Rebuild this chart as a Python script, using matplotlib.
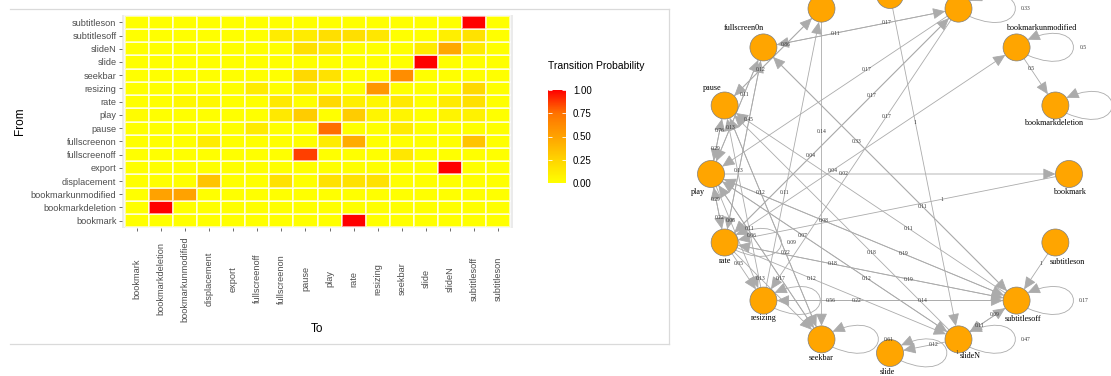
import numpy as np
import matplotlib
matplotlib.use("Agg")
import matplotlib.pyplot as plt
from matplotlib.colors import LinearSegmentedColormap
from matplotlib.patches import Circle, FancyArrowPatch
from matplotlib.path import Path

# states, in the order used on both axes of the heatmap and around the circle
states = ['bookmark', 'bookmarkdeletion', 'bookmarkunmodified', 'displacement', 'export',
          'fullscreenoff', 'fullscreenon', 'pause', 'play', 'rate', 'resizing',
          'seekbar', 'slide', 'slideN', 'subtitlesoff', 'subtitleson']

# names written next to the network nodes
node_names = ['bookmark', 'bookmarkdeletion', 'bookmarkunmodified', 'displacement', 'export',
              'fullscreenoff', 'fullscreen0n', 'pause', 'play', 'rate', 'resizing',
              'seekbar', 'slide', 'slideN', 'subtitlesoff', 'subtitleson']

# transition probabilities: one row per "from" state, columns follow `states`
probs = [
    [0, 0, 0, 0, 0, 0, 0, 0, 0, 1, 0, 0, 0, 0, 0, 0],                                # bookmark
    [0, 1, 0, 0, 0, 0, 0, 0, 0, 0, 0, 0, 0, 0, 0, 0],                                # bookmarkdeletion
    [0, 0.5, 0.5, 0, 0, 0, 0, 0, 0, 0, 0, 0, 0, 0, 0, 0],                            # bookmarkunmodified
    [0, 0, 0, 0.33, 0, 0, 0.17, 0, 0.17, 0.17, 0.17, 0, 0, 0, 0, 0],                 # displacement
    [0, 0, 0, 0, 0, 0, 0, 0, 0, 0, 0, 0, 0, 1, 0, 0],                                # export
    [0, 0, 0, 0, 0, 0, 0, 0.86, 0, 0, 0, 0.14, 0, 0, 0, 0],                          # fullscreenoff
    [0, 0, 0, 0.11, 0, 0, 0, 0, 0.11, 0.45, 0, 0, 0, 0, 0.33, 0],                    # fullscreenon
    [0, 0, 0, 0, 0, 0.12, 0, 0, 0.76, 0, 0, 0.12, 0, 0, 0, 0],                       # pause
    [0.02, 0, 0, 0, 0, 0, 0.13, 0.29, 0, 0.29, 0.06, 0.06, 0, 0.07, 0.08, 0],        # play
    [0, 0, 0.04, 0.04, 0, 0, 0.13, 0, 0.22, 0.09, 0.05, 0.13, 0, 0.12, 0.18, 0],     # rate
    [0, 0, 0, 0, 0, 0.11, 0, 0.11, 0, 0, 0.56, 0, 0, 0, 0.22, 0],                    # resizing
    [0, 0, 0, 0, 0, 0, 0, 0.22, 0.17, 0, 0, 0.61, 0, 0, 0, 0],                       # seekbar
    [0, 0, 0, 0, 0, 0, 0, 0, 0, 0, 0, 0, 1, 0, 0, 0],                                # slide
    [0, 0, 0, 0, 0, 0, 0, 0.18, 0.12, 0, 0, 0, 0.12, 0.47, 0.11, 0],                 # slideN
    [0, 0, 0, 0, 0, 0, 0.11, 0.11, 0.19, 0.19, 0.14, 0, 0, 0.09, 0.17, 0],           # subtitlesoff
    [0, 0, 0, 0, 0, 0, 0, 0, 0, 0, 0, 0, 0, 0, 1, 0],                                # subtitleson
]

cbar_ticks = [0, 0.25, 0.5, 0.75, 1.0]

W, H = 1111, 376
fig = plt.figure(figsize=(W / 100, H / 100), dpi=100)
fig.patch.set_facecolor('white')

sans = 'Liberation Sans'
serif = 'Liberation Serif'
grey30 = '#4D4D4D'

# yellow -> red, close to ggplot's Lab interpolation
cmap = LinearSegmentedColormap.from_list(
    'yr', [(0, '#FFFF00'), (0.25, '#FFD400'), (0.5, '#FFA200'), (0.75, '#FF7300'), (1, '#FF0000')])

# ---------------- heatmap ----------------
P = np.array(probs, dtype=float)
n = len(states)

ax = fig.add_axes([122 / W, 1 - 228 / H, 391 / W, 213 / H])
ax.set_facecolor('#EBEBEB')
edges = np.arange(n + 1) - 0.5
mesh = ax.pcolormesh(edges, edges, P, cmap=cmap, vmin=0, vmax=1,
                     edgecolors=(1, 1, 1, 0.6), linewidth=0.15)
ax.set_xlim(-0.62, n - 0.38)
ax.set_ylim(-0.55, n - 0.45)
for s in ax.spines.values():
    s.set_visible(False)

ax.set_xticks(range(n))
ax.set_yticks(range(n))
ax.set_yticklabels(states, fontsize=6.6, color=grey30, family=sans)
ax.set_xticklabels(states, fontsize=6.6, color=grey30, family=sans,
                   rotation=90, va='center', ha='center')
ax.tick_params(axis='both', length=2.5, width=0.5, color='#333333')
ax.tick_params(axis='x', pad=34)
ax.tick_params(axis='y', pad=1.5)

fig.text(20 / W, 1 - 121 / H, 'From', rotation=90, ha='center', va='center',
         fontsize=8.5, family=sans)
fig.text(317 / W, 1 - 329 / H, 'To', ha='center', va='center', fontsize=8.5, family=sans)

# legend
fig.text(548 / W, 1 - 66 / H, 'Transition Probability', ha='left', va='center',
         fontsize=7.5, family=sans)
cax = fig.add_axes([548 / W, 1 - 183 / H, 18 / W, 93 / H])
cb = fig.colorbar(mesh, cax=cax, ticks=cbar_ticks)
cb.outline.set_visible(False)
cb.ax.set_yticklabels([f'{t:.2f}' for t in cbar_ticks], fontsize=7, family=sans)
cb.ax.tick_params(length=0, pad=5)
cax.hlines(cbar_ticks, 0, 0.2, color='white', lw=0.6)
cax.hlines(cbar_ticks, 0.8, 1, color='white', lw=0.6)

# ---------------- network ----------------
net = fig.add_axes([0, 0, 1, 1])
net.set_xlim(0, W)
net.set_ylim(H, 0)
net.axis('off')
net.patch.set_visible(False)

# panel border around the heatmap image
net.plot([10, 669], [9, 9], color='#DADADA', lw=0.9)
net.plot([10, 669], [344, 344], color='#DADADA', lw=0.9)
net.plot([669, 669], [9, 344], color='#DADADA', lw=0.9)

# circular layout in pixel units
cx, cy, R = 890, 174, 179
node_r = 13.5
ang = 2 * np.pi * np.arange(n) / n
nx = cx + R * np.cos(ang)
ny = cy - R * np.sin(ang)

edge_col = '#ABABAB'
astyle = '-|>,head_length=0.55,head_width=0.25'


def fmt(p):
    return f'{p:.2f}'.rstrip('0').rstrip('.')


for i in range(n):
    for j in range(n):
        p = P[i, j]
        if p <= 0:
            continue
        if i == j:
            x, y = nx[i], ny[i]
            a = np.radians(35)
            verts = [(x + node_r * np.cos(a), y + node_r * np.sin(a)),
                     (x + 72, y + 34), (x + 72, y - 34),
                     (x + node_r * np.cos(a), y - node_r * np.sin(a))]
            path = Path(verts, [Path.MOVETO, Path.CURVE4, Path.CURVE4, Path.CURVE4])
            net.add_patch(FancyArrowPatch(path=path, arrowstyle=astyle, mutation_scale=14,
                                          color=edge_col, lw=0.6, zorder=2))
            net.text(x + 67, y, fmt(p), fontsize=4, family=serif, color='#333333',
                     ha='center', va='center', zorder=4)
            continue
        dx, dy = nx[j] - nx[i], ny[j] - ny[i]
        d = np.hypot(dx, dy)
        ux, uy = dx / d, dy / d
        start = (nx[i] + ux * node_r, ny[i] + uy * node_r)
        end = (nx[j] - ux * node_r, ny[j] - uy * node_r)
        net.add_patch(FancyArrowPatch(start, end, arrowstyle=astyle, mutation_scale=14,
                                      shrinkA=0, shrinkB=0, color=edge_col, lw=0.6, zorder=2))
        net.text(nx[i] + 0.37 * dx, ny[i] + 0.37 * dy, fmt(p), fontsize=4, family=serif,
                 color='#333333', ha='center', va='center', zorder=4)

for i in range(n):
    net.add_patch(Circle((nx[i], ny[i]), node_r, fc='#FFA500', ec='#7F7F7F', lw=0.5, zorder=3))

# label offsets around each node (pixels)
lab_dx = [0, -2, 25, 20, 0, -20, -20, -12, -13, 0, 0, 0, -3, 12, 6, 12]
lab_dy = [18, 18, -19, -19, -19, -19, -19, -17, 18, 18, 17, 19, 19, 17, 18, 19]
for i in range(n):
    net.text(nx[i] + lab_dx[i], ny[i] + lab_dy[i], node_names[i], fontsize=5.9,
             family=serif, ha='center', va='center', zorder=4)

fig.savefig('out.png', dpi=100)
